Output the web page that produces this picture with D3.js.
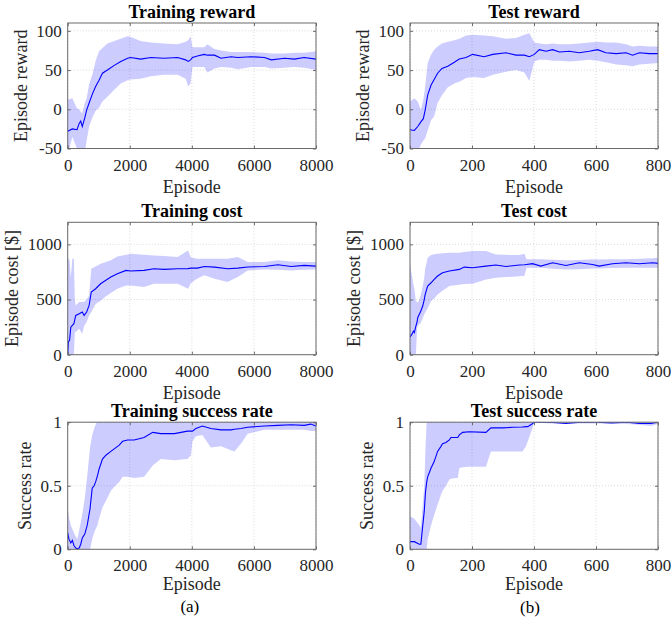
<!DOCTYPE html>
<html>
<head>
<meta charset="utf-8">
<script src="https://cdn.jsdelivr.net/npm/d3@7"></script>
<style>
  body { margin: 0; background: #fff; }
  svg { display: block; font-family: "Liberation Serif", "Times New Roman", serif; }
</style>
</head>
<body>
<svg id="chart" width="671" height="622"></svg>
<script>
// ---- data ----
const trainTicksX = [0, 2000, 4000, 6000, 8000];
const testTicksX = [0, 200, 400, 600, 800];
const rewardTicks = [-50, 0, 50, 100];
const costTicks = [0, 500, 1000];
const successTicks = [0, 0.5, 1];

// training reward
const trRewardX = [0, 150, 300, 370, 420, 470, 550, 610, 690, 800, 900, 1010, 1120, 1280, 1500, 1710, 1930, 2030, 2350, 2680, 3100, 3540, 3800, 3880, 3960, 4020, 4180, 4400, 4500, 4730, 4940, 5260, 5480, 5910, 6340, 6560, 6990, 7300, 7620, 8000];
const trRewardMean = [-28, -25, -26, -18, -15, -22, -11, -1, 8, 20, 29, 37, 46, 50, 56, 61, 65, 66, 64, 66, 65, 66, 63, 61, 63, 66, 68, 70, 69, 69, 65, 67, 66, 67, 66, 63, 65, 64, 66, 64];
const trRewardHi = [12, 14, 1, 0, -3, -5, 8, 14, 32, 45, 62, 74, 78, 84, 87, 90, 93, 92, 87, 85, 84, 83, 86, 88, 93, 79, 79, 79, 83, 77, 75, 73, 73, 73, 72, 71, 71, 72, 72, 74];
const trRewardLo = [-58, -35, -50, -55, -58, -62, -55, -40, -22, -10, -2, 2, 10, 16, 25, 33, 37, 38, 39, 42, 44, 44, 39, 29, 33, 54, 54, 54, 47, 52, 54, 53, 51, 54, 54, 52, 53, 54, 53, 50];

// test reward
const teRewardX = [0, 14, 25, 35, 43, 49, 57, 68, 78, 89, 103, 122, 143, 159, 181, 202, 239, 267, 310, 342, 369, 385, 401, 417, 439, 460, 482, 514, 546, 578, 605, 632, 665, 697, 718, 740, 772, 800];
const teRewardMean = [-26, -27, -22, -16, -12, -1, 18, 31, 38, 46, 52, 55, 60, 64, 66, 70, 67, 70, 72, 69, 69, 67, 70, 76, 74, 76, 73, 74, 72, 74, 76, 72, 71, 72, 69, 72, 71, 71];
const teRewardHi = [10, 14, 10, -1, 12, 29, 59, 70, 76, 80, 84, 86, 88, 90, 94, 95, 94, 93, 90, 91, 95, 97, 85, 84, 83, 84, 83, 83, 84, 85, 86, 85, 85, 83, 80, 81, 80, 80];
const teRewardLo = [-52, -55, -55, -45, -40, -37, -27, -14, -9, 8, 18, 28, 33, 35, 40, 41, 40, 44, 48, 50, 47, 36, 61, 63, 63, 62, 62, 61, 62, 63, 62, 60, 57, 56, 55, 57, 58, 59];

// training cost
const trCostX = [0, 20, 60, 100, 150, 200, 230, 260, 370, 470, 530, 610, 690, 760, 900, 1060, 1230, 1390, 1600, 1880, 2030, 2460, 2780, 3110, 3540, 3880, 3970, 4180, 4400, 4730, 5150, 5480, 5800, 6340, 6770, 7200, 7620, 8000];
const trCostMean = [0, 115, 130, 250, 266, 281, 320, 356, 371, 387, 356, 387, 447, 568, 598, 643, 674, 704, 734, 764, 758, 764, 779, 773, 779, 780, 785, 785, 800, 794, 779, 785, 795, 800, 815, 800, 810, 803];
const trCostHi = [880, 870, 860, 700, 870, 870, 500, 447, 477, 477, 480, 500, 538, 779, 800, 825, 840, 855, 890, 905, 915, 906, 900, 894, 885, 945, 880, 870, 870, 870, 870, 885, 840, 840, 855, 845, 840, 840];
const trCostLo = [0, 0, 0, 0, 0, 0, 200, 205, 236, 190, 260, 296, 356, 387, 460, 490, 530, 560, 598, 628, 628, 613, 643, 643, 643, 598, 650, 690, 719, 689, 658, 704, 764, 773, 770, 764, 770, 773];

// test cost
const teCostX = [0, 6, 11, 14, 19, 23, 25, 30, 35, 41, 46, 49, 57, 68, 78, 89, 105, 127, 159, 175, 202, 245, 277, 310, 353, 369, 376, 395, 422, 460, 503, 546, 589, 610, 653, 697, 740, 783, 800];
const teCostMean = [160, 184, 214, 200, 260, 300, 335, 366, 396, 441, 500, 546, 622, 652, 682, 713, 743, 758, 773, 794, 788, 803, 813, 800, 813, 815, 818, 825, 803, 833, 809, 833, 818, 803, 825, 833, 825, 833, 828];
const teCostHi = [818, 720, 637, 600, 486, 475, 471, 500, 546, 620, 697, 780, 879, 903, 910, 915, 920, 924, 924, 930, 939, 939, 909, 905, 903, 915, 864, 864, 864, 860, 855, 858, 864, 862, 864, 864, 870, 875, 879];
const teCostLo = [0, 0, 0, 0, 0, 245, 260, 275, 290, 330, 366, 380, 420, 486, 510, 546, 580, 622, 635, 640, 643, 682, 697, 704, 710, 713, 788, 788, 788, 780, 773, 775, 782, 782, 785, 788, 788, 788, 788];

// training success rate
const trSuccX = [0, 40, 100, 150, 200, 260, 310, 370, 420, 470, 550, 630, 720, 790, 850, 900, 960, 1010, 1120, 1230, 1390, 1500, 1660, 1770, 1930, 2140, 2460, 2740, 3000, 3440, 3860, 3970, 4020, 4130, 4340, 4610, 4940, 5260, 5370, 5580, 5800, 6340, 6770, 7200, 7620, 7830, 8000];
const trSuccMean = [0.13, 0.08, 0.05, 0.07, 0.03, 0.01, 0.005, 0.01, 0.04, 0.09, 0.12, 0.19, 0.32, 0.48, 0.5, 0.53, 0.58, 0.63, 0.71, 0.74, 0.77, 0.79, 0.82, 0.85, 0.86, 0.86, 0.88, 0.92, 0.91, 0.91, 0.93, 0.93, 0.93, 0.95, 0.97, 0.95, 0.94, 0.94, 0.945, 0.95, 0.96, 0.97, 0.975, 0.98, 0.975, 0.985, 0.97];
const trSuccHi = [0.32, 0.25, 0.19, 0.16, 0.13, 0.1, 0.08, 0.15, 0.21, 0.28, 0.4, 0.58, 0.8, 0.9, 0.95, 0.98, 1.02, 1.02, 1.02, 1.02, 1.02, 1.02, 1.02, 1.02, 1.02, 1.02, 1.02, 1.02, 1.02, 1.02, 1.02, 1.02, 1.02, 1.02, 1.02, 1.02, 1.02, 1.02, 1.02, 1.02, 1.02, 1.02, 1.02, 1.02, 1.02, 1.02, 1.02];
const trSuccLo = [0, 0, 0, 0, 0, 0, 0, 0, 0, 0, 0, 0, 0, 0.08, 0.13, 0.16, 0.19, 0.24, 0.33, 0.38, 0.46, 0.49, 0.53, 0.57, 0.57, 0.56, 0.57, 0.66, 0.71, 0.70, 0.71, 0.74, 0.85, 0.89, 0.9, 0.8, 0.81, 0.78, 0.77, 0.83, 0.91, 0.94, 0.94, 0.94, 0.94, 0.93, 0.93];

// test success rate
const teSuccX = [0, 14, 30, 35, 46, 50, 54, 57, 68, 78, 89, 100, 105, 116, 127, 132, 148, 154, 159, 170, 191, 245, 261, 299, 331, 363, 374, 380, 396, 400, 450, 503, 550, 600, 650, 700, 740, 777, 800];
const teSuccMean = [0.06, 0.06, 0.04, 0.04, 0.3, 0.45, 0.53, 0.57, 0.64, 0.69, 0.77, 0.81, 0.83, 0.84, 0.86, 0.88, 0.88, 0.88, 0.9, 0.92, 0.925, 0.92, 0.955, 0.955, 0.96, 0.962, 0.965, 0.965, 0.99, 1.0, 1.0, 0.99, 1.0, 1.0, 0.995, 1.0, 0.99, 0.99, 1.0];
const teSuccHi = [0.26, 0.24, 0.19, 0.17, 0.5, 0.8, 1.02, 1.02, 1.02, 1.02, 1.02, 1.02, 1.02, 1.02, 1.02, 1.02, 1.02, 1.02, 1.02, 1.02, 1.02, 1.02, 1.02, 1.02, 1.02, 1.02, 1.02, 1.02, 1.02, 1.02, 1.02, 1.02, 1.02, 1.02, 1.02, 1.02, 1.02, 1.02, 1.02];
const teSuccLo = [0, 0, 0, 0, 0, 0, 0, 0.08, 0.19, 0.27, 0.35, 0.43, 0.46, 0.5, 0.55, 0.555, 0.56, 0.56, 0.64, 0.645, 0.65, 0.65, 0.77, 0.77, 0.77, 0.77, 0.81, 0.85, 0.96, 1.0, 0.99, 0.99, 0.99, 0.99, 0.99, 0.985, 0.98, 0.97, 0.985];

// ---- layout ----
const cols = [[67.7, 316], [410, 658]];
const rows = [[23, 148.5], [222.3, 354.7], [422.2, 549.3]];

const panels = [
  { col: 0, row: 0, title: "Training reward", ylabel: "Episode reward", xd: [0, 8000], yd: [-50, 110], xt: trainTicksX, yt: rewardTicks, x: trRewardX, m: trRewardMean, hi: trRewardHi, lo: trRewardLo },
  { col: 1, row: 0, title: "Test reward", ylabel: "Episode reward", xd: [0, 800], yd: [-50, 110], xt: testTicksX, yt: rewardTicks, x: teRewardX, m: teRewardMean, hi: teRewardHi, lo: teRewardLo },
  { col: 0, row: 1, title: "Training cost", ylabel: "Episode cost [$]", xd: [0, 8000], yd: [0, 1200], xt: trainTicksX, yt: costTicks, x: trCostX, m: trCostMean, hi: trCostHi, lo: trCostLo },
  { col: 1, row: 1, title: "Test cost", ylabel: "Episode cost [$]", xd: [0, 800], yd: [0, 1200], xt: testTicksX, yt: costTicks, x: teCostX, m: teCostMean, hi: teCostHi, lo: teCostLo },
  { col: 0, row: 2, title: "Training success rate", ylabel: "Success rate", xd: [0, 8000], yd: [0, 1], xt: trainTicksX, yt: successTicks, x: trSuccX, m: trSuccMean, hi: trSuccHi, lo: trSuccLo },
  { col: 1, row: 2, title: "Test success rate", ylabel: "Success rate", xd: [0, 800], yd: [0, 1], xt: testTicksX, yt: successTicks, x: teSuccX, m: teSuccMean, hi: teSuccHi, lo: teSuccLo },
];

const svg = d3.select("#chart");
const txt = "#262626";
const boxColor = "#6a6a6a";

panels.forEach((p, i) => {
  const [x0, x1] = cols[p.col];
  const [y0, y1] = rows[p.row];
  const w = x1 - x0, h = y1 - y0;
  const xs = d3.scaleLinear().domain(p.xd).range([x0, x1]);
  const ys = d3.scaleLinear().domain(p.yd).range([y1, y0]);
  const data = p.x.map((xv, k) => ({ x: xv, m: p.m[k], hi: p.hi[k], lo: p.lo[k] }));

  const g = svg.append("g");
  g.append("clipPath").attr("id", "clip" + i)
    .append("rect").attr("x", x0).attr("y", y0).attr("width", w).attr("height", h);

  // grid
  const grid = g.append("g").attr("stroke", "#cfcfcf").attr("stroke-dasharray", "1,2").attr("stroke-width", 0.8);
  p.xt.forEach(t => grid.append("line").attr("x1", xs(t)).attr("x2", xs(t)).attr("y1", y0).attr("y2", y1));
  p.yt.forEach(t => grid.append("line").attr("x1", x0).attr("x2", x1).attr("y1", ys(t)).attr("y2", ys(t)));

  const clipped = g.append("g").attr("clip-path", `url(#clip${i})`);
  clipped.append("path").datum(data)
    .attr("fill", "#0000ff").attr("fill-opacity", 0.2)
    .attr("d", d3.area().x(d => xs(d.x)).y0(d => ys(d.lo)).y1(d => ys(d.hi)));
  clipped.append("path").datum(data)
    .attr("fill", "none").attr("stroke", "#0000ff").attr("stroke-width", 1.1)
    .attr("d", d3.line().x(d => xs(d.x)).y(d => ys(d.m)));

  // axes with inward ticks
  const fmt = d => String(d);
  const bottom = g.append("g").attr("transform", `translate(0,${y1})`)
    .call(d3.axisBottom(xs).tickValues(p.xt).tickSizeInner(-3).tickSizeOuter(0).tickPadding(10).tickFormat(fmt));
  const left = g.append("g").attr("transform", `translate(${x0},0)`)
    .call(d3.axisLeft(ys).tickValues(p.yt).tickSizeInner(-3).tickSizeOuter(0).tickPadding(6).tickFormat(fmt));
  const top = g.append("g").attr("transform", `translate(0,${y0})`)
    .call(d3.axisTop(xs).tickValues(p.xt).tickSizeInner(-3).tickSizeOuter(0).tickFormat(""));
  const right = g.append("g").attr("transform", `translate(${x1},0)`)
    .call(d3.axisRight(ys).tickValues(p.yt).tickSizeInner(-3).tickSizeOuter(0).tickFormat(""));
  [bottom, left, top, right].forEach(a => {
    a.select(".domain").remove();
    a.selectAll("line").attr("stroke", boxColor);
    a.selectAll("text").attr("fill", txt).style("font-size", "17px").style("font-family", "Liberation Serif");
  });

  g.append("rect").attr("x", x0).attr("y", y0).attr("width", w).attr("height", h)
    .attr("fill", "none").attr("stroke", boxColor).attr("stroke-width", 1);

  // labels
  g.append("text").attr("x", (x0 + x1) / 2).attr("y", y0 - 5)
    .attr("text-anchor", "middle").attr("font-weight", "bold").attr("font-size", 18).attr("fill", "#000")
    .text(p.title);
  g.append("text").attr("x", (x0 + x1) / 2).attr("y", y1 + (p.row === 2 ? 41 : 44))
    .attr("text-anchor", "middle").attr("font-size", 18).attr("fill", txt)
    .text("Episode");
  const tw = d3.max(left.selectAll("text").nodes(), n => n.getBBox().width);
  const lx = x0 - (tw + 6 + 16);
  const ly = (y0 + y1) / 2;
  g.append("text").attr("transform", `translate(${lx},${ly}) rotate(-90)`)
    .attr("text-anchor", "middle").attr("dy", "0.35em").attr("font-size", 18).attr("fill", txt)
    .text(p.ylabel);
});

// sub-figure captions
svg.append("text").attr("x", (cols[0][0] + cols[0][1]) / 2 - 2).attr("y", 612)
  .attr("text-anchor", "middle").attr("font-size", 17).attr("fill", "#000").text("(a)");
svg.append("text").attr("x", (cols[1][0] + cols[1][1]) / 2 - 4).attr("y", 613)
  .attr("text-anchor", "middle").attr("font-size", 17).attr("fill", "#000").text("(b)");
</script>
</body>
</html>
